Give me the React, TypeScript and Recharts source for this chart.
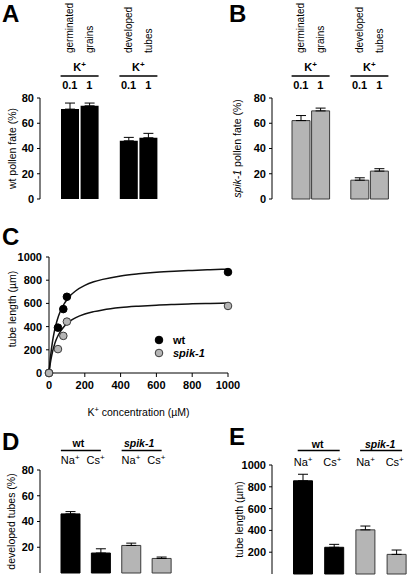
import React from 'react';
import { ComposedChart, Bar, Cell, XAxis, YAxis, ErrorBar, Line, Scatter, Legend } from 'recharts';

const FONT = '"Liberation Sans", Arial, Helvetica, sans-serif';

// ---------- Panels A & B : pollen fate ----------
const fateSlots = ['germ-0.1', 'germ-1', 'gap', 'tube-0.1', 'tube-1'];
const kLevels = ['0.1', '1', '', '0.1', '1'];
const fateWords = ['germinated', 'grains', '', 'developed', 'tubes'];
const wtFate = [71.2, 73.8, null, 46.1, 48.5];
const wtFateErr = [4.8, 2.2, null, 2.7, 3.5];
const spikFate = [62.1, 69.8, null, 14.9, 22.1];
const spikFateErr = [4.0, 2.2, null, 1.9, 1.9];
const fateTicks = [0, 20, 40, 60, 80];

// ---------- Panel C : tube length vs K+ ----------
const kConc = [0, 50, 80, 100, 1000];
const wtLength = [0, 391, 551, 657, 870];
const spikLength = [0, 206, 320, 443, 578];
const fitConc = [0, 5, 10, 20, 30, 40, 50, 60, 80, 100, 125, 150, 200, 250, 300, 400, 500, 600, 700, 800, 900, 1000];
const wtFit = [0, 88, 160, 274, 358, 424, 476, 519, 584, 632, 676, 709, 755, 786, 807, 837, 855, 868, 877, 884, 890, 895];
const spikFit = [0, 59, 108, 185, 242, 286, 321, 349, 393, 426, 455, 478, 509, 529, 544, 564, 576, 585, 591, 596, 600, 603];
const concTicks = [0, 200, 400, 600, 800, 1000];
const lengthTicks = [0, 200, 400, 600, 800, 1000];
const legendNames = ['wt', 'spik-1'];

// ---------- Panels D & E : Na+ / Cs+ ----------
const ionSlots = ['wt-Na', 'wt-Cs', 'spik-Na', 'spik-Cs'];
const ions = ['Na', 'Cs', 'Na', 'Cs'];
const genotypes = ['wt', 'wt', 'spik-1', 'spik-1'];
const devTubes = [45.9, 15.5, 21.4, 11.3];
const devTubesErr = [1.8, 3.3, 1.8, 1.1];
const tubeLen = [855, 245, 405, 180];
const tubeLenErr = [60, 27, 35, 40];

// ---------- styles ----------
const WT_FILL = '#000000';
const SPIK_FILL = '#b5b5b5';
const SPIK_STROKE = '#3a3a3a';
const tickStyle = { fontSize: 11, fontWeight: 700, fill: '#000', fontFamily: FONT };

const fateData = (vals: (number | null)[], errs: (number | null)[]) =>
  fateSlots.map((s, i) => ({ slot: s, v: vals[i], e: errs[i] == null ? null : [0, errs[i]] }));
const ionData = (vals: number[], errs: number[]) =>
  ionSlots.map((s, i) => ({ slot: s, v: vals[i], e: [0, errs[i]] }));

const wtFateData = fateData(wtFate, wtFateErr);
const spikFateData = fateData(spikFate, spikFateErr);
const devData = ionData(devTubes, devTubesErr);
const lenData = ionData(tubeLen, tubeLenErr);
const wtPts = kConc.map((x, i) => ({ x, y: wtLength[i] }));
const spikPts = kConc.map((x, i) => ({ x, y: spikLength[i] }));
const wtFitData = fitConc.map((x, i) => ({ x, y: wtFit[i] }));
const spikFitData = fitConc.map((x, i) => ({ x, y: spikFit[i] }));

const KPlus = ({ x, y }: { x: number; y: number }) => (
  <text x={x} y={y} textAnchor="middle" fontSize={11} fontWeight={700} fill="#000">
    K<tspan dy={-4} fontSize={8}>+</tspan>
  </text>
);

const makeFateTick = (half: number) => (props: any) => {
  const { x, y, payload } = props;
  const i = fateSlots.indexOf(payload.value);
  if (i < 0 || !kLevels[i]) return <g />;
  const groupStart = i === 0 || !kLevels[i - 1];
  const gx = x + half;
  return (
    <g>
      <text x={x} y={y - 9.5} textAnchor="middle" fontSize={11} fontWeight={700} fill="#000">
        {kLevels[i]}
      </text>
      <text transform={`translate(${x + 3.5},${y - 45}) rotate(-90)`} fontSize={10} fill="#000">
        {fateWords[i]}
      </text>
      {groupStart && (
        <g>
          <KPlus x={gx} y={y - 27} />
          <line x1={gx - 19} x2={gx + 19} y1={y - 22} y2={y - 22} stroke="#000" strokeWidth={1.3} />
        </g>
      )}
    </g>
  );
};

type IonCfg = { half: number; ionDy: number; csDx: number; nameDy: number; nameDx: number; lineDy: number; lineDx: number; lineHalf: number };
const makeIonTick = (c: IonCfg) => (props: any) => {
  const { x, y, payload } = props;
  const i = ionSlots.indexOf(payload.value);
  if (i < 0) return <g />;
  const groupStart = i === 0 || genotypes[i] !== genotypes[i - 1];
  const gx = x + c.half;
  return (
    <g>
      <text x={x + (ions[i] === 'Cs' ? c.csDx : 0)} y={y + c.ionDy} textAnchor="middle" fontSize={11} fill="#000">
        {ions[i]}
        <tspan dy={-4} fontSize={8}>+</tspan>
      </text>
      {groupStart && (
        <g>
          <text
            x={gx + c.nameDx}
            y={y + c.nameDy}
            textAnchor="middle"
            fontSize={10.5}
            fontWeight={700}
            fontStyle={genotypes[i] === 'wt' ? 'normal' : 'italic'}
            fill="#000"
          >
            {genotypes[i]}
          </text>
          <line
            x1={gx + c.lineDx - c.lineHalf}
            x2={gx + c.lineDx + c.lineHalf}
            y1={y + c.lineDy}
            y2={y + c.lineDy}
            stroke="#000"
            strokeWidth={1.3}
          />
        </g>
      )}
    </g>
  );
};

const yTitle = (text: React.ReactNode, dx: number, dy = 0) => (props: any) => {
  const vb = props.viewBox || {};
  const cx = (vb.x ?? 0) + dx;
  const cy = (vb.y ?? 0) + (vb.height ?? 0) / 2 + dy;
  return (
    <text
      transform={`translate(${cx},${cy}) rotate(-90)`}
      textAnchor="middle"
      dominantBaseline="central"
      fontSize={10.5}
      fill="#000"
    >
      {text}
    </text>
  );
};

const xTitle = (props: any) => {
  const vb = props.viewBox || {};
  return (
    <text x={(vb.x ?? 0) + (vb.width ?? 0) / 2} y={(vb.y ?? 0) + 43} textAnchor="middle" fontSize={10.5} fill="#000">
      K<tspan dy={-4} fontSize={7.5}>+</tspan>
      <tspan dy={4}> concentration (µM)</tspan>
    </text>
  );
};

const axisCommon = { stroke: '#000' };

const FatePanel = ({ data, fill, stroke, padLeft, marginRight, yWidth, title, titleDx, half }: any) => (
  <ComposedChart width={204} height={205} data={data} margin={{ top: 0, right: marginRight, bottom: 6, left: 0 }}>
    <XAxis
      dataKey="slot"
      orientation="top"
      height={98}
      axisLine={false}
      tickLine={false}
      tickSize={0}
      tickMargin={0}
      interval={0}
      padding={{ left: padLeft, right: 0 }}
      tick={makeFateTick(half)}
    />
    <YAxis
      domain={[0, 80]}
      ticks={fateTicks}
      width={yWidth}
      tickSize={3}
      tickMargin={3}
      axisLine={axisCommon}
      tickLine={axisCommon}
      tick={tickStyle}
      label={yTitle(title, titleDx)}
    />
    <Bar dataKey="v" barSize={18} fill={fill} stroke={stroke} strokeWidth={stroke ? 1 : 0} isAnimationActive={false}>
      <ErrorBar dataKey="e" direction="y" width={5} stroke="#000" strokeWidth={1} />
    </Bar>
  </ComposedChart>
);

const IonPanel = ({ data, domain, ticks, width, height, topH, bottom, padLeft, marginRight, yWidth, title, titleDx, cfg }: any) => (
  <ComposedChart width={width} height={height} data={data} margin={{ top: 0, right: marginRight, bottom, left: 0 }}>
    <XAxis
      dataKey="slot"
      orientation="top"
      height={topH}
      axisLine={false}
      tickLine={false}
      tickSize={0}
      tickMargin={0}
      interval={0}
      padding={{ left: padLeft, right: 0 }}
      tick={makeIonTick(cfg)}
    />
    <YAxis
      domain={domain}
      ticks={ticks}
      width={yWidth}
      tickSize={3}
      tickMargin={3}
      axisLine={axisCommon}
      tickLine={axisCommon}
      tick={tickStyle}
      label={yTitle(title, titleDx)}
    />
    <Bar dataKey="v" barSize={19} isAnimationActive={false}>
      {data.map((d: any, i: number) => (
        <Cell
          key={d.slot}
          fill={genotypes[i] === 'wt' ? WT_FILL : SPIK_FILL}
          stroke={genotypes[i] === 'wt' ? WT_FILL : SPIK_STROKE}
          strokeWidth={1}
        />
      ))}
      <ErrorBar dataKey="e" direction="y" width={5} stroke="#000" strokeWidth={1} />
    </Bar>
  </ComposedChart>
);

const dot = (fill: string, stroke: string) => (p: any) =>
  <circle cx={p.cx} cy={p.cy} r={3.8} fill={fill} stroke={stroke} strokeWidth={1} />;

const renderLegend = () => (
  <svg width={70} height={28} style={{ display: 'block' }}>
    {legendNames.map((n, i) => (
      <g key={n}>
        <circle
          cx={5}
          cy={6 + i * 13}
          r={3.8}
          fill={i === 0 ? WT_FILL : SPIK_FILL}
          stroke={i === 0 ? WT_FILL : SPIK_STROKE}
          strokeWidth={1}
        />
        <text x={19} y={10 + i * 13} fontSize={11} fontWeight={700} fontStyle={i === 0 ? 'normal' : 'italic'} fill="#000">
          {n}
        </text>
      </g>
    ))}
  </svg>
);

const abs = (left: number, top: number): React.CSSProperties => ({ position: 'absolute', left, top });

export default function App() {
  return (
    <div
      style={{
        position: 'absolute',
        left: 0,
        top: 0,
        width: 407,
        height: 578,
        overflow: 'hidden',
        background: '#fff',
        fontFamily: FONT,
      }}
    >
      {/* A */}
      <div style={abs(0, 0)}>
        <FatePanel data={wtFateData} fill={WT_FILL} padLeft={20} marginRight={46} yWidth={40} title="wt pollen fate (%)" titleDx={11.5} half={9.8} />
      </div>
      {/* B */}
      <div style={abs(204, 0)}>
        <FatePanel
          data={spikFateData}
          fill={SPIK_FILL}
          stroke={SPIK_STROKE}
          padLeft={19}
          marginRight={19}
          yWidth={68}
          title={
            <>
              <tspan fontStyle="italic">spik-1</tspan> pollen fate (%)
            </>
          }
          titleDx={32.5}
          half={9.8}
        />
      </div>
      {/* C */}
      <div style={abs(0, 240)}>
        <ComposedChart width={270} height={180} margin={{ top: 17, right: 42, bottom: 0, left: 0 }}>
          <XAxis
            type="number"
            dataKey="x"
            domain={[0, 1000]}
            ticks={concTicks}
            height={47}
            tickSize={4}
            tickMargin={4}
            axisLine={axisCommon}
            tickLine={axisCommon}
            tick={tickStyle}
            label={xTitle}
          />
          <YAxis
            type="number"
            dataKey="y"
            domain={[0, 1000]}
            ticks={lengthTicks}
            width={49}
            tickSize={3}
            tickMargin={4}
            axisLine={axisCommon}
            tickLine={axisCommon}
            tick={tickStyle}
            label={yTitle('tube length (µm)', 11.5, -6)}
          />
          <Line data={wtFitData} dataKey="y" type="monotone" dot={false} stroke="#111" strokeWidth={1.5} isAnimationActive={false} legendType="none" />
          <Line data={spikFitData} dataKey="y" type="monotone" dot={false} stroke="#111" strokeWidth={1.5} isAnimationActive={false} legendType="none" />
          <Scatter data={wtPts} dataKey="y" name="wt" fill={WT_FILL} shape={dot(WT_FILL, WT_FILL)} isAnimationActive={false} />
          <Scatter data={spikPts} dataKey="y" name="spik-1" fill={SPIK_FILL} shape={dot(SPIK_FILL, SPIK_STROKE)} isAnimationActive={false} />
          <Legend
            layout="vertical"
            align="center"
            verticalAlign="middle"
            content={renderLegend}
            wrapperStyle={{ position: 'absolute', left: 154, top: 94, width: 70, height: 28 }}
          />
        </ComposedChart>
      </div>
      {/* D */}
      <div style={abs(0, 400)}>
        <IonPanel
          data={devData}
          domain={[0, 80]}
          ticks={fateTicks}
          width={204}
          height={178}
          topH={70}
          bottom={5}
          padLeft={15}
          marginRight={27.5}
          yWidth={40}
          title="developed tubes (%)"
          titleDx={11}
          cfg={{ half: 15.2, ionDy: -6.5, csDx: -5, nameDy: -23.5, nameDx: -7, lineDy: -19.5, lineDx: -4.5, lineHalf: 20 }}
        />
      </div>
      {/* E */}
      <div style={abs(204, 400)}>
        <IonPanel
          data={lenData}
          domain={[0, 1000]}
          ticks={lengthTicks}
          width={210}
          height={178}
          topH={65}
          bottom={4}
          padLeft={15.5}
          marginRight={1.7}
          yWidth={68}
          title="tube length (µm)"
          titleDx={35}
          cfg={{ half: 15.6, ionDy: 1, csDx: -2, nameDy: -17, nameDx: -1, lineDy: -14.5, lineDx: 0, lineHalf: 21 }}
        />
      </div>
      {/* panel letters */}
      <svg width={407} height={578} style={{ position: 'absolute', left: 0, top: 0, pointerEvents: 'none' }}>
        <g fontSize={24} fontWeight={700} fill="#000" fontFamily={FONT}>
          <text x={2} y={22}>A</text>
          <text x={229} y={22}>B</text>
          <text x={2} y={245}>C</text>
          <text x={2} y={450}>D</text>
          <text x={229} y={445}>E</text>
        </g>
      </svg>
    </div>
  );
}
